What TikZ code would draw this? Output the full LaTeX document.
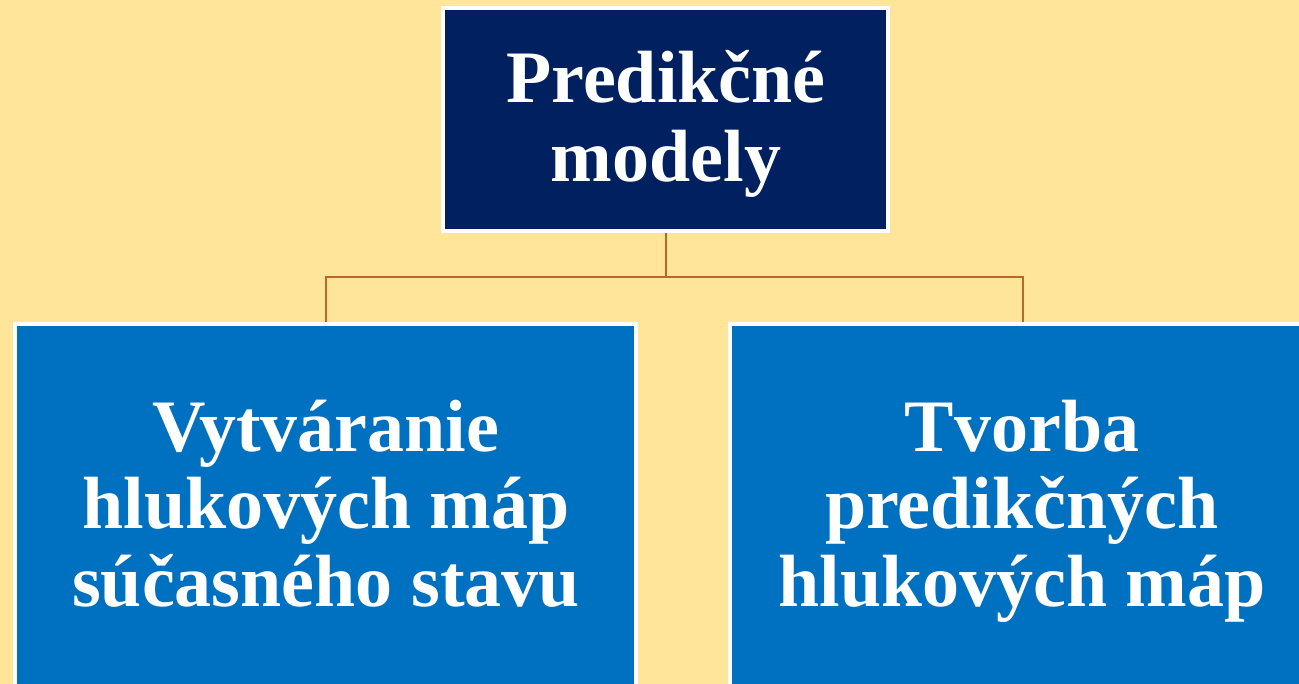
\documentclass[tikz,border=0pt]{standalone}
\usepackage{fontspec}
\setmainfont{Liberation Serif}
\usetikzlibrary{backgrounds}
\definecolor{bgyellow}{HTML}{FFE599}
\definecolor{navy}{HTML}{002060}
\definecolor{midblue}{HTML}{0070C0}
\definecolor{conn}{HTML}{C0652A}
\tikzset{
  box/.style={draw=white, line width=4pt, inner sep=0pt, outer sep=0pt},
  topbox/.style={box, fill=navy},
  subbox/.style={box, fill=midblue},
  label/.style={text=white, font=\fontsize{74}{78}\selectfont\bfseries, inner sep=0pt, anchor=base},
  link/.style={draw=conn, line width=2pt}
}
\begin{document}
\begin{tikzpicture}[x=1pt,y=-1pt]
\useasboundingbox (0,0) rectangle (1299,684);
\clip (0,0) rectangle (1299,684);
\begin{scope}[on background layer]
\fill[bgyellow] (0,0) rectangle (1299,684);
\end{scope}
\node[topbox, minimum width=445pt, minimum height=223pt] (top) at (665.5,119.5) {};
\node[subbox, minimum width=621pt, minimum height=395pt] (left) at (325.5,522) {};
\node[subbox, minimum width=586pt, minimum height=395pt] (right) at (1023,522) {};
\coordinate (j) at (665.5,277);
\begin{scope}[on background layer]
\draw[link] (top.south) -- (j) -| (left.north);
\draw[link] (j) -| (right.north);
\end{scope}
\node[label] (t1) at (666,103) {Predikčné};
\node[label] (t2) at (666,182) {modely};
\node[label] (l1) at (326,452) {Vytváranie};
\node[label] (l2) at (326,528) {hlukových máp};
\node[label] (l3) at (326,606) {súčasného stavu};
\node[label] (r1) at (1022,452) {Tvorba};
\node[label] (r2) at (1022,528) {predikčných};
\node[label] (r3) at (1022,606) {hlukových máp};
\end{tikzpicture}
\end{document}
